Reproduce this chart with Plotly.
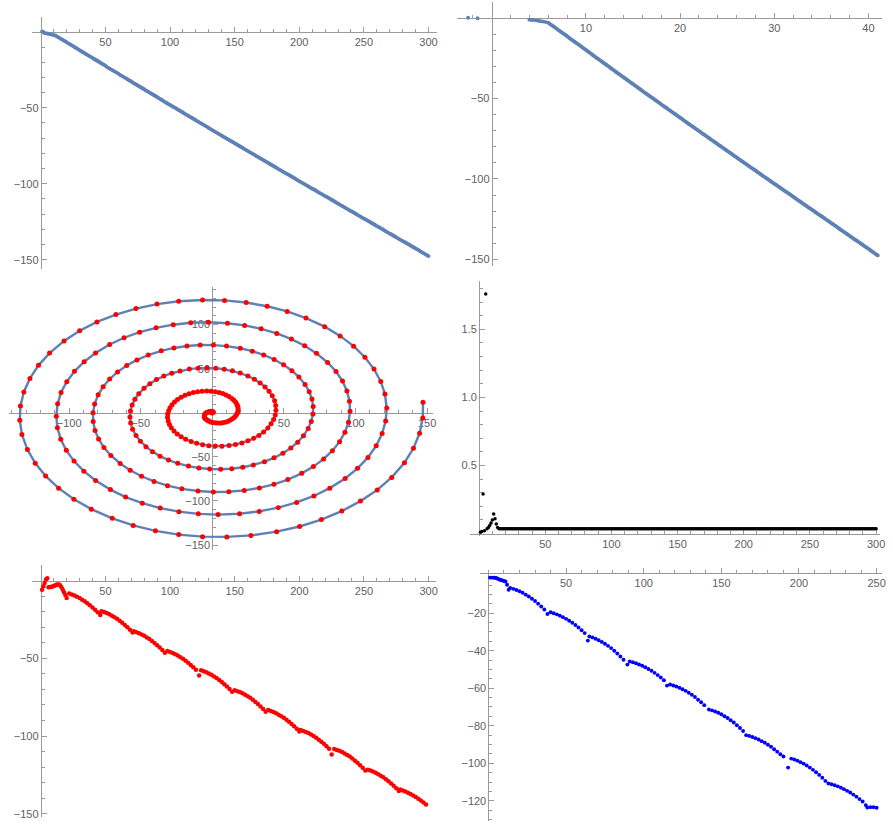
import numpy as np
import plotly.graph_objects as go

W, H = 893, 832

# ---------------- data ----------------
# index of each point (panels 1 and 4)
n_index = list(range(1, 301))

# panel 1 / panel 2 vertical values (also the spiral radius, negated)
amp_values = [
    0.3, 0.0, -0.9, -1.0, -1.1, -1.3, -1.5, -1.7, -1.9, -2.1,
    -2.4, -2.7, -3.3, -3.8, -4.3, -4.8, -5.3, -5.8, -6.3, -6.8,
    -7.4, -7.9, -8.4, -8.9, -9.4, -9.9, -10.4, -10.9, -11.5, -12.0,
    -12.6, -13.1, -13.6, -14.1, -14.6, -15.1, -15.6, -16.1, -16.6, -17.1,
    -17.7, -18.2, -18.7, -19.2, -19.7, -20.3, -20.8, -21.3, -21.8, -22.3,
    -23.0, -23.5, -24.0, -24.5, -25.0, -25.5, -26.0, -26.5, -27.0, -27.5,
    -28.1, -28.6, -29.1, -29.6, -30.1, -30.6, -31.2, -31.7, -32.2, -32.7,
    -33.3, -33.8, -34.3, -34.8, -35.3, -35.8, -36.3, -36.8, -37.3, -37.8,
    -38.4, -38.9, -39.4, -39.9, -40.4, -40.9, -41.4, -41.9, -42.4, -42.9,
    -43.5, -44.0, -44.5, -45.0, -45.6, -46.1, -46.6, -47.1, -47.6, -48.1,
    -48.6, -49.1, -49.6, -50.1, -50.6, -51.1, -51.6, -52.1, -52.6, -53.1,
    -53.7, -54.2, -54.7, -55.2, -55.7, -56.2, -56.7, -57.2, -57.7, -58.2,
    -58.7, -59.2, -59.7, -60.2, -60.7, -61.2, -61.7, -62.2, -62.7, -63.3,
    -63.8, -64.3, -64.8, -65.3, -65.8, -66.3, -66.8, -67.3, -67.8, -68.3,
    -68.8, -69.3, -69.8, -70.3, -70.8, -71.3, -71.8, -72.3, -72.8, -73.3,
    -73.8, -74.3, -74.8, -75.3, -75.8, -76.3, -76.8, -77.3, -77.8, -78.3,
    -78.8, -79.3, -79.8, -80.3, -80.8, -81.3, -81.8, -82.3, -82.8, -83.3,
    -83.8, -84.3, -84.8, -85.3, -85.8, -86.3, -86.8, -87.3, -87.8, -88.3,
    -88.8, -89.3, -89.8, -90.3, -90.8, -91.3, -91.8, -92.3, -92.8, -93.3,
    -93.7, -94.2, -94.7, -95.2, -95.7, -96.2, -96.7, -97.2, -97.8, -98.3,
    -98.7, -99.2, -99.7, -100.2, -100.7, -101.2, -101.7, -102.2, -102.7, -103.2,
    -103.6, -104.1, -104.6, -105.1, -105.6, -106.1, -106.6, -107.1, -107.6, -108.1,
    -108.5, -109.0, -109.5, -110.0, -110.5, -111.0, -111.5, -112.0, -112.5, -113.1,
    -113.5, -114.0, -114.5, -115.0, -115.5, -116.0, -116.5, -117.0, -117.5, -118.0,
    -118.4, -118.9, -119.4, -119.9, -120.4, -120.9, -121.4, -121.9, -122.4, -122.9,
    -123.3, -123.8, -124.3, -124.8, -125.3, -125.8, -126.3, -126.8, -127.3, -127.8,
    -128.2, -128.7, -129.2, -129.7, -130.2, -130.8, -131.3, -131.8, -132.3, -132.8,
    -133.2, -133.7, -134.2, -134.7, -135.2, -135.7, -136.2, -136.7, -137.2, -137.7,
    -138.1, -138.6, -139.1, -139.6, -140.1, -140.6, -141.1, -141.6, -142.1, -142.6,
    -143.0, -143.5, -144.0, -144.6, -145.1, -145.6, -146.1, -146.6, -147.1, -147.6,
]

# panel 2 horizontal values (angle-like coordinate)
phase_values = [
    -2.5, -1.5, 4.0, 4.2, 4.4, 4.7, 4.9, 5.1, 5.3, 5.5,
    5.75, 6.0, 6.12, 6.24, 6.36, 6.49, 6.61, 6.73, 6.85, 6.97,
    7.09, 7.22, 7.34, 7.46, 7.58, 7.70, 7.82, 7.94, 8.07, 8.19,
    8.31, 8.43, 8.55, 8.67, 8.79, 8.92, 9.04, 9.16, 9.28, 9.40,
    9.52, 9.65, 9.77, 9.89, 10.01, 10.13, 10.25, 10.37, 10.50, 10.62,
    10.74, 10.86, 10.98, 11.10, 11.22, 11.35, 11.47, 11.59, 11.71, 11.83,
    11.95, 12.08, 12.20, 12.32, 12.44, 12.56, 12.68, 12.80, 12.93, 13.05,
    13.17, 13.29, 13.41, 13.53, 13.65, 13.78, 13.90, 14.02, 14.14, 14.26,
    14.38, 14.51, 14.63, 14.75, 14.87, 14.99, 15.11, 15.23, 15.36, 15.48,
    15.60, 15.72, 15.84, 15.96, 16.08, 16.21, 16.33, 16.45, 16.57, 16.69,
    16.81, 16.94, 17.06, 17.18, 17.30, 17.42, 17.54, 17.66, 17.79, 17.91,
    18.03, 18.15, 18.27, 18.39, 18.52, 18.64, 18.76, 18.88, 19.00, 19.12,
    19.24, 19.37, 19.49, 19.61, 19.73, 19.85, 19.97, 20.09, 20.22, 20.34,
    20.46, 20.58, 20.70, 20.82, 20.94, 21.07, 21.19, 21.31, 21.43, 21.55,
    21.67, 21.80, 21.92, 22.04, 22.16, 22.28, 22.40, 22.52, 22.65, 22.77,
    22.89, 23.01, 23.13, 23.25, 23.37, 23.50, 23.62, 23.74, 23.86, 23.98,
    24.10, 24.23, 24.35, 24.47, 24.59, 24.71, 24.83, 24.95, 25.08, 25.20,
    25.32, 25.44, 25.56, 25.68, 25.80, 25.93, 26.05, 26.17, 26.29, 26.41,
    26.53, 26.66, 26.78, 26.90, 27.02, 27.14, 27.26, 27.38, 27.51, 27.63,
    27.75, 27.87, 27.99, 28.11, 28.23, 28.36, 28.48, 28.60, 28.72, 28.84,
    28.96, 29.09, 29.21, 29.33, 29.45, 29.57, 29.69, 29.81, 29.94, 30.06,
    30.18, 30.30, 30.42, 30.54, 30.66, 30.79, 30.91, 31.03, 31.15, 31.27,
    31.39, 31.52, 31.64, 31.76, 31.88, 32.00, 32.12, 32.24, 32.37, 32.49,
    32.61, 32.73, 32.85, 32.97, 33.09, 33.22, 33.34, 33.46, 33.58, 33.70,
    33.82, 33.95, 34.07, 34.19, 34.31, 34.43, 34.55, 34.67, 34.80, 34.92,
    35.04, 35.16, 35.28, 35.40, 35.52, 35.65, 35.77, 35.89, 36.01, 36.13,
    36.25, 36.38, 36.50, 36.62, 36.74, 36.86, 36.98, 37.10, 37.23, 37.35,
    37.47, 37.59, 37.71, 37.83, 37.95, 38.08, 38.20, 38.32, 38.44, 38.56,
    38.68, 38.81, 38.93, 39.05, 39.17, 39.29, 39.41, 39.53, 39.66, 39.78,
    39.90, 40.02, 40.14, 40.26, 40.38, 40.51, 40.63, 40.75, 40.87, 40.99,
]

# angle offset of the spiral (panel 3) relative to the panel-2 coordinate
SPIRAL_PHASE = -3.21

# panel 4 values
step_values = [
    0.01, 0.015, 0.29, 0.02, 1.76, 0.035, 0.045, 0.06, 0.077, 0.1,
    0.143, 0.108, 0.07, 0.045, 0.035, 0.035, 0.035, 0.035, 0.035, 0.035,
    0.035, 0.035, 0.035, 0.035, 0.035, 0.035, 0.035, 0.035, 0.035, 0.035,
    0.035, 0.035, 0.035, 0.035, 0.035, 0.035, 0.035, 0.035, 0.035, 0.035,
    0.035, 0.035, 0.035, 0.035, 0.035, 0.035, 0.035, 0.035, 0.035, 0.035,
    0.035, 0.035, 0.035, 0.035, 0.035, 0.035, 0.035, 0.035, 0.035, 0.035,
    0.035, 0.035, 0.035, 0.035, 0.035, 0.035, 0.035, 0.035, 0.035, 0.035,
    0.035, 0.035, 0.035, 0.035, 0.035, 0.035, 0.035, 0.035, 0.035, 0.035,
    0.035, 0.035, 0.035, 0.035, 0.035, 0.035, 0.035, 0.035, 0.035, 0.035,
    0.035, 0.035, 0.035, 0.035, 0.035, 0.035, 0.035, 0.035, 0.035, 0.035,
    0.035, 0.035, 0.035, 0.035, 0.035, 0.035, 0.035, 0.035, 0.035, 0.035,
    0.035, 0.035, 0.035, 0.035, 0.035, 0.035, 0.035, 0.035, 0.035, 0.035,
    0.035, 0.035, 0.035, 0.035, 0.035, 0.035, 0.035, 0.035, 0.035, 0.035,
    0.035, 0.035, 0.035, 0.035, 0.035, 0.035, 0.035, 0.035, 0.035, 0.035,
    0.035, 0.035, 0.035, 0.035, 0.035, 0.035, 0.035, 0.035, 0.035, 0.035,
    0.035, 0.035, 0.035, 0.035, 0.035, 0.035, 0.035, 0.035, 0.035, 0.035,
    0.035, 0.035, 0.035, 0.035, 0.035, 0.035, 0.035, 0.035, 0.035, 0.035,
    0.035, 0.035, 0.035, 0.035, 0.035, 0.035, 0.035, 0.035, 0.035, 0.035,
    0.035, 0.035, 0.035, 0.035, 0.035, 0.035, 0.035, 0.035, 0.035, 0.035,
    0.035, 0.035, 0.035, 0.035, 0.035, 0.035, 0.035, 0.035, 0.035, 0.035,
    0.035, 0.035, 0.035, 0.035, 0.035, 0.035, 0.035, 0.035, 0.035, 0.035,
    0.035, 0.035, 0.035, 0.035, 0.035, 0.035, 0.035, 0.035, 0.035, 0.035,
    0.035, 0.035, 0.035, 0.035, 0.035, 0.035, 0.035, 0.035, 0.035, 0.035,
    0.035, 0.035, 0.035, 0.035, 0.035, 0.035, 0.035, 0.035, 0.035, 0.035,
    0.035, 0.035, 0.035, 0.035, 0.035, 0.035, 0.035, 0.035, 0.035, 0.035,
    0.035, 0.035, 0.035, 0.035, 0.035, 0.035, 0.035, 0.035, 0.035, 0.035,
    0.035, 0.035, 0.035, 0.035, 0.035, 0.035, 0.035, 0.035, 0.035, 0.035,
    0.035, 0.035, 0.035, 0.035, 0.035, 0.035, 0.035, 0.035, 0.035, 0.035,
    0.035, 0.035, 0.035, 0.035, 0.035, 0.035, 0.035, 0.035, 0.035, 0.035,
    0.035, 0.035, 0.035, 0.035, 0.035, 0.035, 0.035, 0.035, 0.035, 0.035,
]

# panel 5 (red) points
red_x = [
    1, 2, 3, 4, 5, 6, 7, 8, 9, 10, 11, 12, 13, 14, 15, 16, 17, 18, 19, 20,
    22, 24, 26, 28, 30, 32, 34, 36, 38, 40, 42, 44, 46,
    47, 49, 51, 53, 55, 57, 59, 61, 63, 65, 67, 69, 71,
    72, 74, 76, 78, 80, 82, 84, 86, 88, 90, 92, 94, 96,
    98, 100, 102, 104, 106, 108, 110, 112, 114, 116, 118, 120, 122.5,
    124, 126, 128, 130, 132, 134, 136, 138, 140, 142, 144, 146, 148,
    150, 152, 154, 156, 158, 160, 162, 164, 166, 168, 170, 172, 174,
    176, 178, 180, 182, 184, 186, 188, 190, 192, 194, 196, 198, 200,
    201, 203, 205, 207, 209, 211, 213, 215, 217, 219, 221, 223, 225,
    227, 229, 231, 233, 235, 237, 239, 241, 243, 245, 247, 249, 251,
    253, 255, 257, 259, 261, 263, 265, 267, 269, 271, 273, 275, 277,
    278, 280, 282, 284, 286, 288, 290, 292, 294, 296, 298,
]
red_y = [
    -5.8, -3.6, -1.5, 0.8, 1.5, -4.2, -4.1, -4.0, -3.8, -3.5,
    -3.1, -2.7, -2.4, -2.4, -3.0, -4.2, -5.8, -7.5, -9.2, -11.1,
    -8.3, -8.9, -9.5, -10.3, -11.2, -12.2, -13.2, -14.5, -15.8, -17.2, -18.7, -20.3, -22.1,
    -19.6, -20.2, -20.8, -21.6, -22.5, -23.5, -24.5, -25.8, -27.1, -28.5, -30.0, -31.6, -33.4,
    -32.6, -33.2, -33.8, -34.6, -35.5, -36.5, -37.5, -38.8, -40.1, -41.5, -43.0, -44.6, -46.4,
    -45.3, -45.9, -46.5, -47.3, -48.2, -49.2, -50.2, -51.5, -52.8, -54.2, -55.7, -57.3, -61.0,
    -57.7, -58.3, -58.9, -59.7, -60.6, -61.6, -62.6, -63.9, -65.2, -66.6, -68.1, -69.7, -71.5,
    -70.5, -71.1, -71.7, -72.5, -73.4, -74.4, -75.4, -76.7, -78.0, -79.4, -80.9, -82.5, -84.3,
    -83.3, -83.9, -84.5, -85.3, -86.2, -87.2, -88.2, -89.5, -90.8, -92.2, -93.7, -95.3, -97.1,
    -96.1, -96.7, -97.3, -98.1, -99.0, -100.0, -101.0, -102.3, -103.6, -105.0, -106.5, -108.1, -111.8,
    -108.3, -108.9, -109.5, -110.3, -111.2, -112.2, -113.2, -114.5, -115.8, -117.2, -118.7, -120.3, -122.1,
    -121.6, -122.2, -122.8, -123.6, -124.5, -125.5, -126.5, -127.8, -129.1, -130.5, -132.0, -133.6, -135.4,
    -134.4, -135.0, -135.6, -136.4, -137.3, -138.2, -139.2, -140.3, -141.5, -142.8, -144.0,
]

# panel 6 (blue) points
blue_x = [
    1, 2, 3, 4, 5, 6, 7, 8, 9, 10, 11, 12, 13,
    14, 16, 18, 20, 22, 24, 26, 28, 30, 32, 34, 36, 38,
    40, 42, 44, 46, 48, 50, 52, 54, 56, 58, 60, 62, 64,
    65, 67, 69, 71, 73, 75, 77, 79, 81, 83, 85, 87, 89.5,
    91, 93, 95, 97, 99, 101, 103, 105, 107, 109, 111, 113, 115,
    117, 119, 121, 123, 125, 127, 129, 131, 133, 135, 137, 139,
    142, 144, 146, 148, 150, 152, 154, 156, 158, 160, 162, 164,
    166, 168, 170, 172, 174, 176, 178, 180, 182, 184, 186, 188, 190, 193,
    195, 197, 199, 201, 203, 205, 207, 209, 211, 213, 215, 217,
    219, 221, 223, 225, 227, 229, 231, 233, 235, 237, 239, 241, 243,
    244, 246, 248, 250,
]
blue_y = [
    -1.0, -1.0, -1.0, -1.1, -1.2, -1.6, -2.0, -2.3, -2.5, -2.8, -3.1, -4.8, -7.5,
    -6.5, -7.0, -7.6, -8.3, -9.1, -10.1, -11.1, -12.3, -13.5, -14.9, -16.4, -18.0, -20.4,
    -19.5, -20.0, -20.6, -21.3, -22.1, -23.0, -24.0, -25.1, -26.3, -27.6, -29.1, -30.6, -34.6,
    -32.4, -32.9, -33.6, -34.4, -35.3, -36.3, -37.4, -38.6, -40.0, -41.5, -43.1, -44.8, -47.4,
    -45.7, -46.1, -46.7, -47.3, -48.0, -48.8, -49.7, -50.7, -51.8, -53.0, -54.3, -55.7, -58.6,
    -58.0, -58.5, -59.1, -59.7, -60.5, -61.4, -62.4, -63.5, -64.7, -66.1, -67.5, -69.0,
    -71.3, -71.8, -72.4, -73.1, -73.9, -74.9, -75.9, -77.1, -78.3, -79.7, -81.2, -82.8,
    -85.0, -85.4, -86.0, -86.6, -87.3, -88.2, -89.1, -90.1, -91.2, -92.5, -93.8, -95.2, -96.4, -102.3,
    -97.5, -98.0, -98.6, -99.4, -100.2, -101.2, -102.3, -103.5, -104.8, -106.2, -107.7, -109.4,
    -110.8, -111.2, -111.7, -112.3, -113.0, -113.8, -114.7, -115.6, -116.7, -117.8, -119.1, -120.4, -122.3,
    -123.6, -123.4, -123.4, -123.7,
]

# tick labels per panel
ticks_x = {
    1: [50, 100, 150, 200, 250, 300],
    2: [10, 20, 30, 40],
    3: [-100, -50, 50, 100, 150],
    4: [50, 100, 150, 200, 250, 300],
    5: [50, 100, 150, 200, 250, 300],
    6: [50, 100, 150, 200, 250],
}
ticks_y = {
    1: [-150, -100, -50],
    2: [-150, -100, -50],
    3: [-150, -100, -50, 50, 100],
    4: [0.5, 1.0, 1.5],
    5: [-150, -100, -50],
    6: [-120, -100, -80, -60, -40, -20],
}

# ---------------- styling / layout geometry ----------------
MM_BLUE = "#5E81B5"
AXC = "#9a9a9a"
LBL = "#606060"
FONT = "Liberation Sans, Arial, sans-serif"

# panel boxes in pixels (left, right, top, bottom), ranges, axis crossing, minor step
PANELS = {
    1: dict(box=(31.7, 439.0, 16.7, 270.0), xr=(-7.15, 306.2), yr=(-156.1, 10.0), cross=(0, 0), xm=10, ym=10),
    2: dict(box=(460.0, 886.7, 1.7, 266.7), xr=(-3.64, 41.41), yr=(-154.0, 10.3), cross=(0, 0), xm=2, ym=10),
    3: dict(box=(9.3, 435.0, 288.3, 552.0), xr=(-141.8, 153.8), yr=(-155.6, 142.4), cross=(0, 0), xm=10, ym=10),
    4: dict(box=(472.7, 885.0, 281.7, 538.3), xr=(-6.84, 303.0), yr=(-0.0205, 1.857), cross=(0, 0), xm=10, ym=0.1),
    5: dict(box=(31.7, 438.3, 566.7, 820.0), xr=(-7.15, 305.6), yr=(-152.1, 10.3), cross=(0, 0), xm=10, ym=10),
    6: dict(box=(482.7, 886.7, 572.0, 824.0), xr=(-5.44, 253.3), yr=(-130.8, 3.08), cross=(0, 1.6), xm=10, ym=5),
}


def fmt(v, dec=False):
    if dec:
        s = "%.1f" % abs(v)
    else:
        s = str(int(round(abs(v))))
    return ("\u2212" + s) if v < 0 else s


def minor_vals(rng, step):
    lo, hi = rng
    k0 = int(np.ceil(lo / step))
    k1 = int(np.floor(hi / step))
    out = []
    for k in range(k0, k1 + 1):
        v = round(k * step, 6)
        if abs(v) < 1e-9 or v >= hi - 1e-9:
            continue
        out.append(v)
    return out


fig = go.Figure()

# panel 1
fig.add_trace(go.Scatter(x=n_index, y=amp_values, mode="markers",
                         marker=dict(color=MM_BLUE, size=3.8, line=dict(width=0)),
                         xaxis="x", yaxis="y", hoverinfo="skip"))
# panel 2
fig.add_trace(go.Scatter(x=phase_values, y=amp_values, mode="markers",
                         marker=dict(color=MM_BLUE, size=3.8, line=dict(width=0)),
                         xaxis="x2", yaxis="y2", hoverinfo="skip"))
# panel 3 : spiral
rad = -np.array(amp_values)
ang = np.array(phase_values) + SPIRAL_PHASE
sx = rad * np.cos(ang)
sy = rad * np.sin(ang)
fig.add_trace(go.Scatter(x=sx[11:], y=sy[11:], mode="lines",
                         line=dict(color=MM_BLUE, width=2.4),
                         xaxis="x3", yaxis="y3", hoverinfo="skip"))
fig.add_trace(go.Scatter(x=sx, y=sy, mode="markers",
                         marker=dict(color="#FF0000", size=5, line=dict(width=0)),
                         xaxis="x3", yaxis="y3", hoverinfo="skip"))
# panel 4
fig.add_trace(go.Scatter(x=n_index, y=step_values, mode="markers",
                         marker=dict(color="#000000", size=3.5, line=dict(width=0)),
                         xaxis="x4", yaxis="y4", hoverinfo="skip"))
# panel 5
fig.add_trace(go.Scatter(x=red_x, y=red_y, mode="markers",
                         marker=dict(color="#FF0000", size=4.5, line=dict(width=0)),
                         xaxis="x5", yaxis="y5", hoverinfo="skip"))
# panel 6
fig.add_trace(go.Scatter(x=blue_x, y=blue_y, mode="markers",
                         marker=dict(color="#0000FF", size=3.9, line=dict(width=0)),
                         xaxis="x6", yaxis="y6", hoverinfo="skip"))

common = dict(showgrid=False, zeroline=False, showline=True, linecolor=AXC, linewidth=1,
              ticks="inside", ticklen=5, tickwidth=1, tickcolor=AXC,
              tickfont=dict(family=FONT, size=11, color=LBL),
              layer="below traces", fixedrange=True, tickmode="array")

layout = {}
for i, p in PANELS.items():
    L, R, T, B = p["box"]
    xr, yr = p["xr"], p["yr"]
    xd = [L / W, R / W]
    yd = [1 - B / H, 1 - T / H]
    xc_px = L + (p["cross"][0] - xr[0]) / (xr[1] - xr[0]) * (R - L)
    yc_px = B - (p["cross"][1] - yr[0]) / (yr[1] - yr[0]) * (B - T)
    xname = "xaxis" if i == 1 else "xaxis%d" % i
    yname = "yaxis" if i == 1 else "yaxis%d" % i
    dec = (i == 4)
    layout[xname] = dict(domain=xd, range=list(xr), anchor="free", position=1 - yc_px / H,
                         side="bottom", tickvals=ticks_x[i], ticktext=[fmt(v) for v in ticks_x[i]],
                         minor=dict(tickmode="array", tickvals=minor_vals(xr, p["xm"]), ticks="inside",
                                    ticklen=3, tickwidth=1, tickcolor=AXC, showgrid=False),
                         **common)
    layout[yname] = dict(domain=yd, range=list(yr), anchor="free", position=xc_px / W,
                         side="left", tickvals=ticks_y[i], ticktext=[fmt(v, dec) for v in ticks_y[i]],
                         minor=dict(tickmode="array", tickvals=minor_vals(yr, p["ym"]), ticks="inside",
                                    ticklen=3, tickwidth=1, tickcolor=AXC, showgrid=False),
                         **common)

fig.update_layout(width=W, height=H, autosize=False, margin=dict(l=0, r=0, t=0, b=0),
                  paper_bgcolor="white", plot_bgcolor="white", showlegend=False, **layout)

fig.write_html("out.html", config={"displayModeBar": False},
               post_script="document.body.style.margin='0';document.body.style.overflow='hidden';")
